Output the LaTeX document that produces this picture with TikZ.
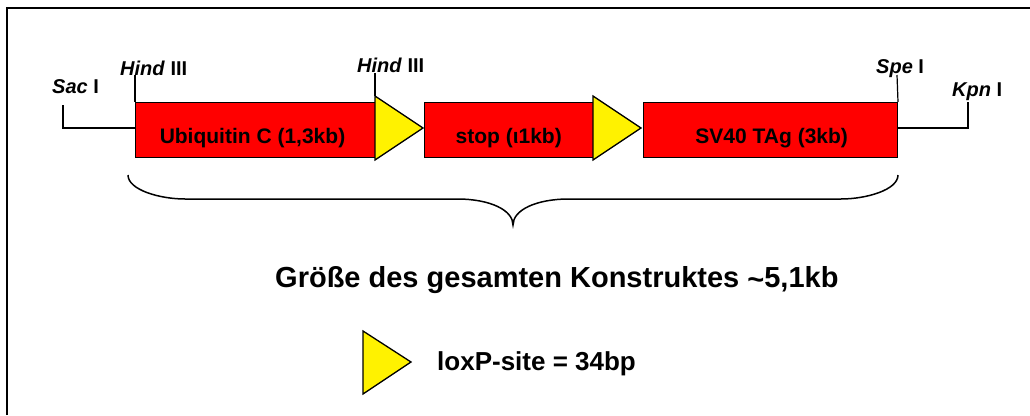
\documentclass[tikz,border=0pt]{standalone}
\usepackage{fontspec}
\setmainfont{Liberation Sans}
\begin{document}
\begin{tikzpicture}[x=1pt,y=-1pt,
  segbox/.style={draw=black, line width=1pt, fill=red, inner sep=0pt,
                 anchor=north west, minimum height=55pt},
  lox/.style={draw=black, line width=1.3pt, fill=yellow, line join=miter},
  site/.style={font=\fontsize{20}{24}\selectfont\bfseries, anchor=base west, inner sep=0pt},
  seglabel/.style={font=\fontsize{21}{25}\selectfont\bfseries, anchor=base, inner sep=0pt},
  tickline/.style={line width=1.2pt},
  backbone/.style={line width=2.4pt},
]
\useasboundingbox (0,0) rectangle (1030,415);

% frame (top and left edges)
\draw[line width=2.4pt] (7,415) -- (7,8) -- (1030,8);

% construct segments
\node[segbox, minimum width=240pt] (ubc)  at (135,102) {};
\node[segbox, minimum width=169pt] (stop) at (424,102) {};
\node[segbox, minimum width=254pt] (sv40) at (643,102) {};

\node[seglabel] (ubcL)  at (252.5,143) {Ubiquitin C (1,3kb)};
\node[seglabel] (stopL) at (508.7,143) {stop (ι1kb)};
\node[seglabel] (sv40L) at (771.7,143) {SV40 TAg (3kb)};

% loxP sites
\draw[lox] (375,96) -- (375,160) -- (423,128) -- cycle;
\draw[lox] (593,96) -- (593,160) -- (641,128) -- cycle;

% restriction sites
\coordinate (sacTop) at (63,105);
\coordinate (sacBot) at (63,128);
\coordinate (kpnTop) at (968,102);
\coordinate (kpnBot) at (968,128);
\coordinate (hind1) at (135,75);
\coordinate (hind2) at (375,73);
\coordinate (spe)   at (897,75);

\draw[backbone] (sacTop) -- (sacBot) -- (ubc.west |- sacBot);
\draw[backbone] (kpnTop) -- (kpnBot) -- (sv40.east |- kpnBot);
\draw[tickline] (hind1) -- (ubc.north west);
\draw[tickline] (hind2) -- (375,96);
\draw[tickline] (spe) -- (sv40.north east);

\node[site] (sacL)   at (52,93)  {\textit{Sac} I};
\node[site] (hind1L) at (120,75) {\textit{Hind} III};
\node[site] (hind2L) at (357,72) {\textit{Hind} III};
\node[site] (speL)   at (876,73) {\textit{Spe} I};
\node[site] (kpnL)   at (952,96) {\textit{Kpn} I};

% brace spanning the whole construct
\draw[line width=1.5pt]
  (128,175) .. controls (128,190) and (160,199) .. (185,199) -- (457,199)
  .. controls (490,199) and (513,210) .. (513,225)
  .. controls (513,210) and (536,199) .. (569,199) -- (841,199)
  .. controls (866,199) and (898,190) .. (898,175);

\node[anchor=base west, inner sep=0pt, font=\fontsize{29}{34}\selectfont\bfseries]
  (size) at (275,287) {Größe des gesamten Konstruktes \raisebox{-2pt}{\textasciitilde}5,1kb};

% legend
\draw[lox] (363,331) -- (363,394) -- (411,362) -- cycle;
\node[anchor=base west, inner sep=0pt, font=\fontsize{26}{30}\selectfont\bfseries]
  (legend) at (437,370) {loxP-site = 34bp};
\end{tikzpicture}
\end{document}
